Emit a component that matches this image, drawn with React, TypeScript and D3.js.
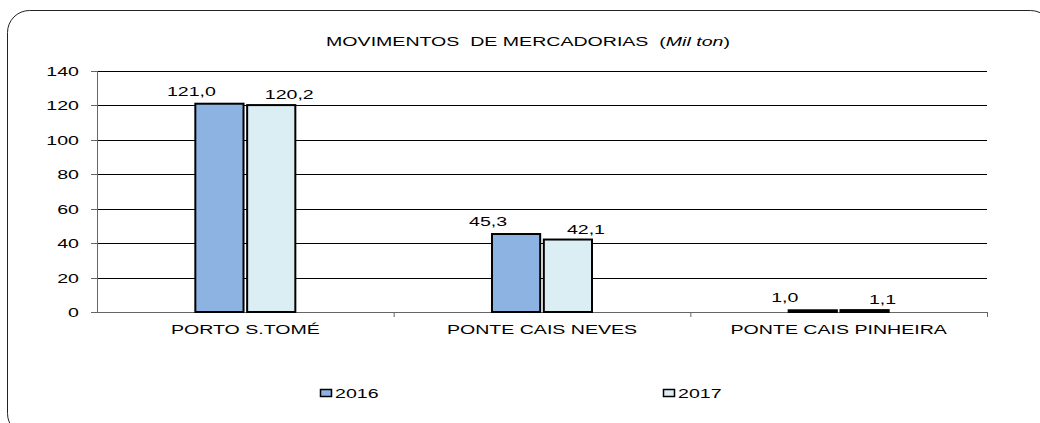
import React from "react";
import * as d3 from "d3";

const categories = ["PORTO S.TOMÉ", "PONTE CAIS NEVES", "PONTE CAIS PINHEIRA"];
const series = ["2016", "2017"];
const values2016 = [121.0, 45.3, 1.0];
const values2017 = [120.2, 42.1, 1.1];
const yTicks = [0, 20, 40, 60, 80, 100, 120, 140];
const colors = ["#8DB3E2", "#DBEEF3"];

const W = 1040;
const H = 423;
const SX = 1.45;
const FONT = "'Liberation Sans', Arial, sans-serif";

function T({ x, y, anchor = "start", size = 13.5, children, fill = "#000" }: any) {
  return (
    <text
      transform={`translate(${x},${y}) scale(${SX},1)`}
      textAnchor={anchor}
      fontSize={size}
      fontFamily={FONT}
      fill={fill}
    >
      {children}
    </text>
  );
}

export default function App() {
  const x = d3.scaleBand<string>().domain(categories).range([97, 987]).paddingInner(0).paddingOuter(0);
  const y = d3.scaleLinear().domain([0, 140]).range([312, 71]);
  const data = [values2016, values2017];
  const fmt = (v: number) => v.toFixed(1).replace(".", ",");
  const labelDx = [-28, 18];

  return (
    <svg width={W} height={H} style={{ position: "absolute", left: 0, top: 0 }}>
      <rect x={7.5} y={10.5} width={1045} height={425} rx={22} ry={22} fill="#fff" stroke="#222" strokeWidth={1} />
      <text
        transform={`translate(528,46) scale(${SX},1)`}
        textAnchor="middle"
        fontSize={13.5}
        fontFamily={FONT}
        fill="#000"
        style={{ whiteSpace: "pre" }}
      >
        <tspan>{"MOVIMENTOS  DE MERCADORIAS  ("}</tspan>
        <tspan fontStyle="italic">Mil ton</tspan>
        <tspan>)</tspan>
      </text>
      {yTicks.map((t) => (
        <g key={t}>
          {t > 0 && <line x1={97} x2={987} y1={Math.round(y(t)) + 0.5} y2={Math.round(y(t)) + 0.5} stroke="#000" strokeWidth={1} />}
          <line x1={91} x2={97} y1={Math.round(y(t)) + 0.5} y2={Math.round(y(t)) + 0.5} stroke="#666" />
          <T x={79} y={y(t) + 5} anchor="end">{t}</T>
        </g>
      ))}
      <line x1={97.5} x2={97.5} y1={y(140)} y2={y(0)} stroke="#666" />
      <line x1={97} x2={987} y1={Math.round(y(0)) + 0.5} y2={Math.round(y(0)) + 0.5} stroke="#666" />
      {categories.map((c) => (
        <line key={c} x1={(x(c) as number) + x.bandwidth() + 0.5} x2={(x(c) as number) + x.bandwidth() + 0.5} y1={y(0)} y2={y(0) + 5} stroke="#666" />
      ))}
      {categories.map((c, ci) => {
        const cx = (x(c) as number) + x.bandwidth() / 2;
        const inner = d3.scaleBand<string>().domain(series).range([cx - 50, cx + 50]).paddingInner(0.07);
        return (
          <g key={c}>
            {series.map((s, si) => {
              const v = data[si][ci];
              const bx = inner(s) as number;
              return (
                <g key={s}>
                  <rect x={bx} y={y(v)} width={inner.bandwidth()} height={y(0) - y(v)} fill={colors[si]} stroke="#000" strokeWidth={2} />
                  <T x={bx + inner.bandwidth() / 2 + labelDx[si]} y={y(v) - 7 - (si === 0 ? 1 : -1)} anchor="middle">{fmt(v)}</T>
                </g>
              );
            })}
            <T x={cx} y={334} anchor="middle">{c}</T>
          </g>
        );
      })}
      {series.map((s, si) => {
        const lx = [320, 663][si];
        return (
          <g key={s}>
            <rect x={lx + 0.5} y={389.5} width={11} height={7} fill={colors[si]} stroke="#000" strokeWidth={1.5} />
            <T x={lx + 15} y={397.5}>{s}</T>
          </g>
        );
      })}
    </svg>
  );
}
